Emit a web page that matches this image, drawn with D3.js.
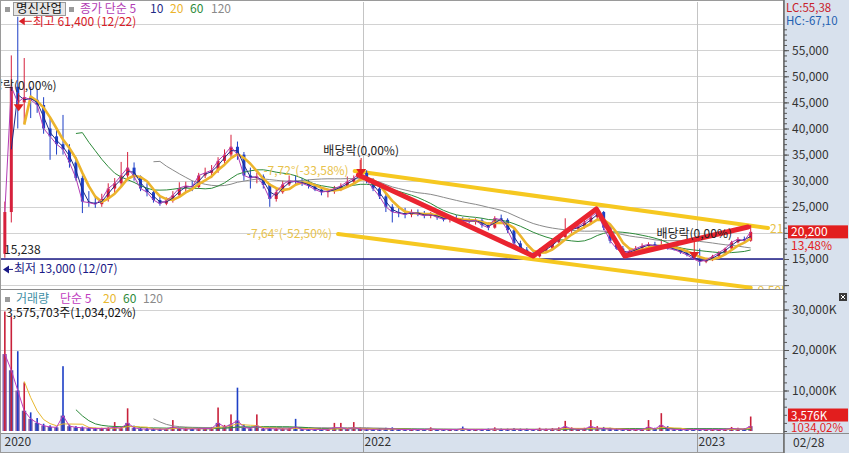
<!DOCTYPE html>
<html>
<head>
<meta charset="utf-8">
<script src="https://cdn.jsdelivr.net/npm/d3@7"></script>
<style>
html, body { margin: 0; padding: 0; background: #fff; overflow: hidden; }
svg { display: block; font-family: "Noto Sans CJK KR", "Noto Sans", sans-serif; }
</style>
</head>
<body>
<svg id="chart" width="849" height="453"></svg>
<script>
// weekly bars, first week starts at the listing day
const startDate = new Date(2020, 11, 7);

// [open, high, low, close] per week
const weeklyOHLC = [
  [16000, 26000, 15238, 24000], [24000, 54000, 22000, 48000], [48000, 61400, 40000, 45000],
  [45000, 53500, 41000, 46000], [46000, 48000, 42000, 45500], [45500, 47500, 43000, 44500],
  [44500, 46000, 39000, 40000], [40000, 42000, 34000, 38500], [38500, 40000, 35000, 37000],
  [37000, 42600, 35000, 36000], [36000, 37000, 32500, 33500], [33500, 34500, 30000, 30500],
  [30500, 31000, 23800, 26000], [26000, 28000, 25000, 25800], [25800, 27000, 24800, 25500],
  [25500, 27500, 25000, 26500], [26500, 29500, 26000, 28500], [28500, 30500, 27500, 29500],
  [29500, 33600, 29000, 31000], [31000, 35500, 30500, 32500], [32500, 33500, 30000, 30800],
  [30800, 31000, 28000, 28500], [28500, 29500, 27000, 27800], [27800, 28500, 25800, 26300],
  [26300, 27000, 25200, 25600], [25600, 26800, 25300, 26200], [26200, 28000, 25800, 27200],
  [27200, 29700, 27000, 28600], [28600, 29800, 27800, 29000], [29000, 30000, 28000, 28800],
  [28800, 31500, 28500, 31000], [31000, 32500, 30500, 31500], [31500, 33000, 30500, 32000],
  [32000, 34500, 31500, 33800], [33800, 36000, 33000, 35000], [35000, 38800, 34500, 36500],
  [36500, 37500, 34000, 35000], [35000, 35500, 30000, 31000], [31000, 32500, 28500, 30500],
  [30500, 31500, 29500, 30800], [30800, 31200, 28500, 29200], [29200, 29500, 25000, 26500],
  [26500, 28500, 26000, 27800], [27800, 30000, 27500, 29300], [29300, 31000, 29000, 30000],
  [30000, 31000, 29200, 29800], [29800, 30500, 29000, 29500], [29500, 30200, 28500, 29000],
  [29000, 29500, 28000, 28300], [28300, 28800, 27200, 27800], [27800, 28500, 26800, 28000],
  [28000, 29000, 27500, 28500], [28500, 29500, 28000, 29000], [29000, 30800, 28800, 29800],
  [29800, 31000, 29300, 30500], [30500, 34000, 30000, 31500], [31500, 32000, 29500, 30000],
  [30000, 30500, 28000, 28500], [28500, 29000, 26500, 27000], [27000, 27500, 24000, 25000],
  [25000, 25500, 22000, 24000], [24000, 25000, 23000, 23800], [23800, 24800, 22800, 23500],
  [23500, 24500, 23000, 24000], [24000, 24500, 23200, 23600], [23600, 24200, 22800, 23300],
  [23300, 24000, 22800, 23500], [23500, 23800, 22500, 23000], [23000, 23500, 22200, 22600],
  [22600, 23200, 22000, 22800], [22800, 23400, 22200, 22500], [22500, 23000, 21800, 22300],
  [22300, 22800, 21800, 22200], [22200, 22800, 21600, 22400], [22400, 22800, 21000, 21500],
  [21500, 22000, 20500, 21000], [21000, 23200, 20800, 22800], [22800, 23500, 22000, 22500],
  [22500, 22800, 20000, 20500], [20500, 21000, 17500, 18000], [18000, 18500, 16500, 16800],
  [16800, 17300, 15800, 16000], [16000, 16500, 15200, 15500], [15500, 17000, 15300, 16600],
  [16600, 17500, 16200, 17000], [17000, 18500, 16800, 18200], [18200, 19500, 18000, 19200],
  [19200, 22800, 19000, 20500], [20500, 21500, 20000, 20800], [20800, 21800, 20200, 21200],
  [21200, 22500, 20800, 22000], [22000, 23500, 21500, 23000], [23000, 24800, 22500, 24000],
  [24000, 24200, 20500, 21000], [21000, 21500, 18000, 18500], [18500, 19000, 16800, 17000],
  [17000, 17500, 15800, 16000], [16000, 16800, 15600, 16500], [16500, 17500, 16200, 17000],
  [17000, 18000, 16800, 17500], [17500, 18200, 17000, 17800], [17800, 18300, 17200, 17500],
  [17500, 18800, 17000, 17600], [17600, 18000, 16800, 17000], [17000, 17500, 16600, 16800],
  [16800, 17200, 16000, 16300], [16300, 16800, 15500, 15800], [15800, 16200, 14800, 15000],
  [15000, 17000, 13700, 14500], [14500, 15200, 14200, 14800], [14800, 15800, 14600, 15500],
  [15500, 16500, 15300, 16200], [16200, 17200, 16000, 17000], [17000, 18500, 16800, 18200],
  [18200, 19200, 18000, 18800], [18800, 19300, 18200, 18500], [18500, 21500, 18300, 20200]
];

// tallest daily volume of each week (K shares)
const volPeakK = [
  29500, 28300, 19700, 12000, 4600, 3200, 1800, 1400, 1100, 16000,
  1600, 1200, 1100, 900, 800, 800, 900, 2200, 1000, 5600,
  1300, 800, 700, 700, 600, 600, 2700, 800, 900, 700,
  800, 900, 1000, 5800, 1500, 4100, 10700, 1600, 900, 4100,
  800, 900, 700, 700, 800, 3000, 600, 500, 600, 500,
  600, 2000, 2000, 700, 2200, 900, 700, 600, 700, 800,
  900, 600, 500, 500, 500, 500, 900, 500, 500, 500,
  500, 1100, 500, 500, 500, 600, 900, 600, 600, 700,
  600, 600, 500, 800, 600, 700, 900, 2500, 900, 700,
  800, 2700, 1200, 1000, 800, 700, 600, 500, 500, 500,
  2700, 800, 4400, 1200, 700, 500, 500, 500, 600, 500,
  500, 500, 600, 1000, 800, 700, 3576
];

// average daily volume of each week (K shares)
const volAvgK = [
  19000, 15000, 10000, 5000, 3000, 2000, 1300, 1000, 900, 3800,
  1200, 900, 800, 700, 600, 600, 700, 900, 700, 2000,
  800, 500, 500, 450, 450, 450, 1000, 600, 500, 500,
  550, 600, 600, 2000, 1000, 1600, 2600, 900, 600, 1300,
  500, 600, 500, 500, 500, 1000, 450, 400, 400, 400,
  400, 800, 800, 450, 800, 500, 450, 400, 450, 500,
  550, 400, 350, 350, 350, 350, 500, 350, 350, 350,
  350, 550, 350, 350, 350, 400, 500, 400, 400, 450,
  400, 400, 350, 450, 400, 450, 500, 1100, 550, 450,
  500, 1100, 700, 600, 500, 450, 400, 350, 350, 350,
  1000, 500, 1500, 600, 400, 350, 350, 350, 400, 350,
  350, 350, 400, 600, 500, 450, 1200
];

const priceTicks = [10000, 15000, 20000, 25000, 30000, 35000, 40000, 45000, 50000, 55000, 60000];
const priceTickLabels = [15000, 20000, 25000, 30000, 35000, 40000, 45000, 50000, 55000];
const volTicks = [10000, 20000, 30000];
const xTickDates = [new Date(2020, 11, 7), new Date(2022, 0, 1), new Date(2023, 0, 1)];
const xTickLabels = ['2020', '2022', '2023'];
const lastDateLabel = '02/28';

// price MAs (days) -> weekly windows
const priceMAs = [
  { label: '5', weeks: 1, color: '#b23cb4', width: 1 },
  { label: '10', weeks: 2, color: '#1f2a86', width: 1 },
  { label: '20', weeks: 4, color: '#ecb42c', width: 2.6 },
  { label: '60', weeks: 12, color: '#2d8a3a', width: 1 },
  { label: '120', weeks: 24, color: '#8a8a8a', width: 1 }
];
const volMAs = [
  { label: '5', weeks: 1, color: '#c03cc0' },
  { label: '20', weeks: 4, color: '#e8b830' },
  { label: '60', weeks: 12, color: '#2d8a3a' },
  { label: '120', weeks: 24, color: '#8a8a8a' }
];

// drawn trend tools (date, price)
const channelUpper = [[new Date(2021, 11, 23), 31860], [new Date(2023, 2, 20), 20940]];
const channelLower = [[new Date(2021, 11, 5), 19790], [new Date(2023, 2, 1), 9505]];
const zigzag = [
  [new Date(2021, 11, 27), 31100], [new Date(2022, 6, 6), 15575], [new Date(2022, 8, 13), 24580],
  [new Date(2022, 9, 14), 15575], [new Date(2023, 1, 26), 21130]
];
const dividendMarks = [
  { date: new Date(2020, 11, 24), price: 43900 },
  { date: new Date(2021, 11, 30), price: 31480 },
  { date: new Date(2022, 11, 29), price: 15575 }
];
const supportPrice = 15000;

const svg = d3.select('#chart');
const W = 849, H = 453;
const plotRight = 783;
const priceTop = 2, priceBottom = 289, volTop = 290, volBottom = 433;
const panelBg = '#d8e1ed';

const x = d3.scaleTime()
  .domain([startDate, new Date(2022, 0, 1), new Date(2023, 0, 1), new Date(2023, 2, 31)])
  .range([3, 363, 697, 778]);
const y = d3.scaleLinear().domain([15000, 55000]).range([259, 50.2]);
const yv = d3.scaleLinear().domain([0, 30000]).range([431, 309.5]);

const bars = weeklyOHLC.map((d, i) => ({
  date: d3.timeDay.offset(startDate, 7 * i + 2),
  o: d[0], h: d[1], l: d[2], c: d[3],
  vol: volPeakK[i], volAvg: volAvgK[i]
}));

function rollingMean(values, win) {
  return values.map((v, i) => i < win - 1 ? null : d3.mean(values.slice(i - win + 1, i + 1)));
}

const upColor = '#d6203c', downColor = '#1d3fc6';
const fmt = d3.format(',');
const fontFam = '"Noto Sans CJK KR", "Noto Sans", sans-serif';

// backgrounds
svg.append('rect').attr('width', W).attr('height', H).attr('fill', '#fff');
svg.append('rect').attr('x', plotRight).attr('y', 0).attr('width', W - plotRight).attr('height', H).attr('fill', panelBg);
svg.append('rect').attr('x', 0).attr('y', volBottom).attr('width', plotRight).attr('height', H - volBottom).attr('fill', panelBg);

// clips
const defs = svg.append('defs');
defs.append('clipPath').attr('id', 'clipPrice').append('rect')
  .attr('x', 0).attr('y', priceTop).attr('width', plotRight).attr('height', priceBottom - priceTop);
defs.append('clipPath').attr('id', 'clipVol').append('rect')
  .attr('x', 0).attr('y', volTop).attr('width', plotRight).attr('height', volBottom - volTop - 1);

// grid
const grid = svg.append('g').attr('stroke', '#d2d2d2').attr('stroke-width', 1);
grid.selectAll('line.hp').data(priceTicks.filter(v => y(v) > priceTop && y(v) < priceBottom)).join('line')
  .attr('x1', 0).attr('x2', plotRight).attr('y1', d => Math.round(y(d)) + 0.5).attr('y2', d => Math.round(y(d)) + 0.5);
grid.selectAll('line.hv').data(volTicks).join('line')
  .attr('x1', 0).attr('x2', plotRight).attr('y1', d => Math.round(yv(d)) + 0.5).attr('y2', d => Math.round(yv(d)) + 0.5);
grid.selectAll('line.v').data(xTickDates.slice(1)).join('line')
  .attr('stroke', '#c4c4c4')
  .attr('x1', d => Math.round(x(d)) + 0.5).attr('x2', d => Math.round(x(d)) + 0.5)
  .attr('y1', priceTop).attr('y2', H);

// ---------- price panel ----------
const pg = svg.append('g').attr('clip-path', 'url(#clipPrice)');

// support line
pg.append('line')
  .attr('x1', 0).attr('x2', plotRight)
  .attr('y1', y(supportPrice)).attr('y2', y(supportPrice))
  .attr('stroke', '#1a1a86').attr('stroke-width', 1.4);

// channel lines (under the candles)
const trendLine = d3.line().x(d => x(d[0])).y(d => y(d[1]));
[channelUpper, channelLower].forEach(ch => {
  pg.append('path').attr('d', trendLine(ch))
    .attr('fill', 'none').attr('stroke', '#f6c820').attr('stroke-width', 4).attr('stroke-linecap', 'round');
});

// candles
const candles = pg.append('g').selectAll('g').data(bars).join('g')
  .attr('stroke', d => d.c >= d.o ? upColor : downColor)
  .attr('fill', d => d.c >= d.o ? upColor : downColor);
candles.append('line')
  .attr('x1', d => x(d.date)).attr('x2', d => x(d.date))
  .attr('y1', d => y(d.h)).attr('y2', d => y(d.l)).attr('stroke-width', 1);
candles.append('rect')
  .attr('x', d => x(d.date) - 1.5).attr('width', 3)
  .attr('y', d => y(Math.max(d.o, d.c)))
  .attr('height', d => Math.max(1, Math.abs(y(d.o) - y(d.c))))
  .attr('stroke', 'none');

// moving averages
const closes = bars.map(d => d.c);
priceMAs.slice().reverse().forEach(ma => {
  const vals = rollingMean(closes, ma.weeks);
  const line = d3.line().defined((d, i) => vals[i] != null).x(d => x(d.date)).y((d, i) => y(vals[i]));
  pg.append('path').attr('d', line(bars))
    .attr('fill', 'none').attr('stroke', ma.color).attr('stroke-width', ma.width).attr('stroke-linejoin', 'round');
});

// zigzag
pg.append('path').attr('d', trendLine(zigzag))
  .attr('fill', 'none').attr('stroke', '#ea2430').attr('stroke-width', 5)
  .attr('stroke-linejoin', 'round').attr('stroke-linecap', 'round');

// channel labels
pg.append('text').attr('x', x(channelUpper[0][0]) - 6).attr('y', y(channelUpper[0][1]) + 4)
  .attr('text-anchor', 'end').attr('font-size', 12).attr('fill', '#e8c24a').text('-7,72°(-33,58%)');
pg.append('text').attr('x', x(channelLower[0][0]) - 6).attr('y', y(channelLower[0][1]) + 4)
  .attr('text-anchor', 'end').attr('font-size', 12).attr('fill', '#e8c24a').text('-7,64°(-52,50%)');
pg.append('text').attr('x', x(channelUpper[1][0]) + 2).attr('y', y(channelUpper[1][1]) + 5)
  .attr('font-size', 12).attr('fill', '#e8c24a').text('21');
pg.append('text').attr('x', x(channelLower[1][0]) + 3).attr('y', y(channelLower[1][1]) + 7)
  .attr('font-size', 12).attr('fill', '#e8c24a').text('-9,505');

// dividend markers
dividendMarks.forEach(m => {
  const mx = x(m.date), my = y(m.price);
  pg.append('line').attr('x1', mx).attr('x2', mx).attr('y1', my - 15).attr('y2', my)
    .attr('stroke', '#e02020').attr('stroke-width', 1);
  pg.append('path').attr('d', `M${mx - 5},${my - 4}L${mx + 5},${my - 4}L${mx},${my + 3}Z`).attr('fill', '#e02020');
  pg.append('text').attr('x', mx).attr('y', my - 18).attr('text-anchor', 'middle')
    .attr('font-size', 12).attr('fill', '#222').text('배당락(0,00%)');
});

// high / low labels
const hiX = x(bars[2].date) + 1, hiY = y(bars[2].h) + 4.5;
pg.append('path').attr('d', `M${hiX},${hiY}L${hiX + 6},${hiY - 4}L${hiX + 6},${hiY + 4}Z`).attr('fill', '#d82028');
pg.append('line').attr('x1', hiX + 5).attr('x2', hiX + 13).attr('y1', hiY).attr('y2', hiY).attr('stroke', '#d82028');
pg.append('text').attr('x', hiX + 14).attr('y', hiY + 4.5).attr('font-size', 12).attr('fill', '#d82028')
  .text('최고 ' + fmt(d3.max(bars, d => d.h)) + ' (12/22)');

const loX = x(startDate), loY = y(13000);
pg.append('path').attr('d', `M${loX},${loY}L${loX + 6},${loY - 4}L${loX + 6},${loY + 4}Z`).attr('fill', '#1a1a86');
pg.append('line').attr('x1', loX + 5).attr('x2', loX + 10).attr('y1', loY).attr('y2', loY).attr('stroke', '#1a1a86');
pg.append('text').attr('x', loX + 11).attr('y', loY + 4).attr('font-size', 12).attr('fill', '#1a1a86')
  .text('최저 13,000 (12/07)');
pg.append('text').attr('x', loX + 1).attr('y', y(bars[0].l) - 4).attr('font-size', 12).attr('fill', '#222')
  .text(fmt(bars[0].l));

// price legend
const leg = svg.append('g').attr('font-size', 12);
leg.append('rect').attr('x', 5).attr('y', 7).attr('width', 5).attr('height', 5).attr('fill', '#9a9a9a');
leg.append('rect').attr('x', 13.5).attr('y', 2.5).attr('width', 52).attr('height', 13)
  .attr('fill', '#e6e6e6').attr('stroke', '#9a9a9a');
leg.append('text').attr('x', 16).attr('y', 13).attr('fill', '#111').attr('font-size', 12.5).text('명신산업');
leg.append('rect').attr('x', 69).attr('y', 7).attr('width', 5).attr('height', 5).attr('fill', '#9a9a9a');
const legItems = [
  { t: '종가 단순 5', c: priceMAs[0].color, x: 80 },
  { t: '10', c: priceMAs[1].color, x: 150 },
  { t: '20', c: priceMAs[2].color, x: 170 },
  { t: '60', c: priceMAs[3].color, x: 190 },
  { t: '120', c: priceMAs[4].color, x: 211 }
];
leg.selectAll('text.i').data(legItems).join('text')
  .attr('x', d => d.x).attr('y', 13).attr('fill', d => d.c).text(d => d.t);

// ---------- volume panel ----------
const vg = svg.append('g').attr('clip-path', 'url(#clipVol)');
// weekly average level as a wide bar, tallest day as a thin spike
vg.selectAll('rect.va').data(bars).join('rect')
  .attr('x', d => x(d.date) - 2.4).attr('width', 4.4)
  .attr('y', d => yv(d.volAvg)).attr('height', d => yv(0) - yv(d.volAvg))
  .attr('fill', (d, i) => i % 2 ? '#3b3f9e' : '#7d4a9e').attr('opacity', 0.85);
vg.selectAll('rect.vb').data(bars).join('rect')
  .attr('x', d => x(d.date) - 0.8).attr('width', 1.6)
  .attr('y', d => yv(d.vol)).attr('height', d => yv(0) - yv(d.vol))
  .attr('fill', d => d.c >= d.o ? '#c8203a' : downColor);

const vAvg = bars.map(d => d.volAvg);
volMAs.slice().reverse().forEach(ma => {
  const vals = rollingMean(vAvg, ma.weeks);
  const line = d3.line().defined((d, i) => vals[i] != null).x(d => x(d.date)).y((d, i) => yv(vals[i]));
  vg.append('path').attr('d', line(bars))
    .attr('fill', 'none').attr('stroke', ma.color).attr('stroke-width', 1);
});

const vleg = svg.append('g').attr('font-size', 12);
vleg.append('rect').attr('x', 5).attr('y', 297).attr('width', 5).attr('height', 5).attr('fill', '#9a9a9a');
const vlegItems = [
  { t: '거래량', c: '#3f8fa6', x: 16 },
  { t: '단순 5', c: volMAs[0].color, x: 60 },
  { t: '20', c: volMAs[1].color, x: 103 },
  { t: '60', c: volMAs[2].color, x: 123 },
  { t: '120', c: volMAs[3].color, x: 143 }
];
vleg.selectAll('text.i').data(vlegItems).join('text')
  .attr('x', d => d.x).attr('y', 303).attr('fill', d => d.c).text(d => d.t);
vleg.append('text').attr('x', 6).attr('y', 317).attr('fill', '#111').attr('font-size', 12)
  .text('3,575,703주(1,034,02%)');

// ---------- frame ----------
svg.append('line').attr('x1', 0).attr('x2', plotRight).attr('y1', priceBottom + 0.5).attr('y2', priceBottom + 0.5)
  .attr('stroke', '#8c8c8c');
svg.append('line').attr('x1', 0).attr('x2', W).attr('y1', volBottom + 0.5).attr('y2', volBottom + 0.5)
  .attr('stroke', '#8c8c8c');
svg.append('rect').attr('x', 0.5).attr('y', 0.5).attr('width', plotRight).attr('height', H - 1)
  .attr('fill', 'none').attr('stroke', '#9a9a9a');
svg.append('line').attr('x1', plotRight + 1).attr('x2', plotRight + 1).attr('y1', 0).attr('y2', H)
  .attr('stroke', '#6a6a6a').attr('stroke-width', 1.5);

// ---------- right axes ----------
const axisColor = '#333';
const minorPrice = svg.append('g').attr('transform', `translate(${plotRight + 1},0)`)
  .call(d3.axisRight(y).tickValues(d3.range(9000, 64000, 1000)).tickSize(3).tickFormat(''));
const priceAxis = svg.append('g').attr('transform', `translate(${plotRight + 1},0)`)
  .call(d3.axisRight(y).tickValues(priceTicks).tickSize(5).tickPadding(3)
    .tickFormat(d => priceTickLabels.includes(d) ? fmt(d) : ''));
const minorVol = svg.append('g').attr('transform', `translate(${plotRight + 1},0)`)
  .call(d3.axisRight(yv).tickValues(d3.range(0, 35000, 2000)).tickSize(3).tickFormat(''));
const volAxis = svg.append('g').attr('transform', `translate(${plotRight + 1},0)`)
  .call(d3.axisRight(yv).tickValues(volTicks).tickSize(5).tickPadding(3).tickFormat(d => fmt(d) + 'K'));
[minorPrice, priceAxis, minorVol, volAxis].forEach(a => {
  a.select('.domain').remove();
  a.selectAll('line').attr('stroke', '#555');
  a.selectAll('text').attr('fill', axisColor).attr('font-size', 12).attr('font-family', fontFam);
});
priceAxis.selectAll('.tick').filter(d => y(d) > priceBottom - 2 || y(d) < 28).select('line').remove();
minorPrice.selectAll('.tick').filter(d => y(d) > priceBottom - 1 || y(d) < 28).remove();
minorVol.selectAll('.tick').filter(d => yv(d) < volTop + 2 || yv(d) > volBottom - 1).remove();

// LC / HC
svg.append('text').attr('x', 786).attr('y', 12).attr('font-size', 11.5).attr('fill', '#c8202a').text('LC:55,38');
svg.append('text').attr('x', 786).attr('y', 24.5).attr('font-size', 11.5).attr('fill', '#1f5fb0').text('HC:-67,10');

// last price box
const last = bars[bars.length - 1];
const lpY = y(last.c);
svg.append('rect').attr('x', 788).attr('y', lpY - 6.5).attr('width', 60).attr('height', 13).attr('fill', '#e21e1e');
svg.append('text').attr('x', 791).attr('y', lpY + 4.5).attr('font-size', 12).attr('fill', '#fff').text(fmt(last.c));
svg.append('text').attr('x', 791).attr('y', lpY + 18.5).attr('font-size', 12).attr('fill', '#e21e1e').text('13,48%');

const lvY = yv(last.vol);
svg.append('rect').attr('x', 788).attr('y', lvY - 8).attr('width', 60).attr('height', 13).attr('fill', '#e21e1e');
svg.append('text').attr('x', 791).attr('y', lvY + 3).attr('font-size', 11.5).attr('fill', '#fff').text(fmt(Math.round(last.vol)) + 'K');
svg.append('text').attr('x', 791).attr('y', lvY + 15).attr('font-size', 11.5).attr('fill', '#e21e1e').text('1034,02%');

// close icon
const ic = svg.append('g').attr('transform', 'translate(839,293)');
ic.append('rect').attr('width', 8).attr('height', 8).attr('fill', '#3a3a3a');
ic.append('path').attr('d', 'M2,2L6,6M6,2L2,6').attr('stroke', '#fff').attr('stroke-width', 1);

// ---------- x axis ----------
const xAxis = svg.append('g').attr('transform', `translate(0,${volBottom})`)
  .call(d3.axisBottom(x).tickValues(xTickDates).tickSize(20).tickPadding(-16)
    .tickFormat((d, i) => xTickLabels[i]));
xAxis.select('.domain').remove();
xAxis.selectAll('line').attr('stroke', '#9a9a9a');
xAxis.selectAll('.tick').filter((d, i) => i === 0).select('line').remove();
xAxis.selectAll('text').attr('text-anchor', 'start').attr('dx', 1).attr('fill', axisColor)
  .attr('font-size', 12).attr('font-family', fontFam);
svg.append('text').attr('x', 793).attr('y', 447).attr('font-size', 12).attr('fill', axisColor).text(lastDateLabel);
</script>
</body>
</html>
